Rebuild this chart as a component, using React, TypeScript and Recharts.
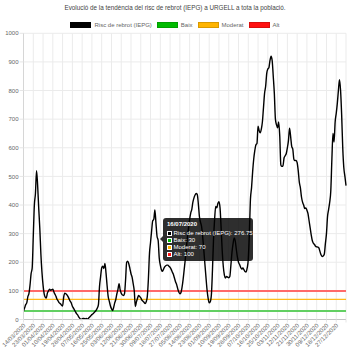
import { LineChart, Line, XAxis, YAxis, CartesianGrid, ReferenceLine, Tooltip } from "recharts";

const FONT = "'Liberation Sans', Arial, Helvetica, sans-serif";
const TITLE = "Evolució de la tendència del risc de rebrot (IEPG) a URGELL a tota la població.";
const SERIES_NAME = "Risc de rebrot (IEPG)";

// daily IEPG values from 14/03/2020
const riskValues = [
	30, 40, 52, 58, 80, 90, 120, 160, 180, 290,
	400, 440, 520, 470, 390, 320, 230, 165, 120, 90,
	78, 75, 92, 100, 106, 102, 104, 106, 96, 88,
	80, 70, 64, 58, 55, 50, 47, 78, 92, 90,
	86, 80, 72, 64, 58, 46, 40, 33, 26, 20,
	15, 8, 3, 0, 2, 4, 3, 2, 4, 1,
	5, 9, 13, 17, 20, 24, 28, 33, 40, 52,
	115, 150, 180, 186, 178, 196, 162, 118, 80, 64,
	48, 38, 31, 42, 58, 70, 90, 105, 125, 104,
	92, 86, 84, 90, 138, 200, 204, 194, 178, 160,
	148, 125, 100, 45, 62, 74, 84, 80, 76, 68,
	64, 60, 56, 62, 80, 140, 230, 270, 310, 345,
	350, 383, 336, 290, 276.75, 215, 190, 174, 168, 176,
	184, 188, 190, 190, 186, 182, 175, 166, 158, 145,
	132, 122, 108, 96, 90, 94, 112, 140, 175, 210,
	250, 290, 320, 350, 372, 385, 410, 425, 435, 440,
	437, 405, 360, 340, 325, 290, 245, 196, 150, 105,
	75, 58, 62, 85, 170, 280, 350, 395, 390, 405,
	412, 390, 320, 240, 185, 155, 145, 150, 148, 146,
	150, 190, 235, 265, 285, 275, 245, 218, 200, 192,
	182, 176, 180, 174, 168, 166, 180, 210, 300, 420,
	460, 515, 560, 590, 610, 615, 675, 660, 652, 665,
	690, 740, 790, 815, 860, 875, 880, 905, 920, 905,
	850, 790, 700, 680, 670, 690, 640, 540, 535, 538,
	565, 572, 580, 600, 625, 668, 640, 605, 595, 560,
	555, 556, 548, 520, 480, 460, 428, 410, 400, 388,
	390, 382, 370, 345, 320, 295, 275, 266, 262, 256,
	254, 253, 250, 238, 226, 220, 222, 228, 265, 300,
	360, 385, 410, 450, 560, 650, 620, 690, 720, 755,
	800, 838, 800, 715, 600, 530, 500, 468,
];

const thresholdNames = ["Baix", "Moderat", "Alt"];
const thresholdValues = [30, 70, 100];
const thresholdLineColors = ["#62cf62", "#ffbb1c", "#ff6a6a"];
const thresholdBoxColors = ["#00bb00", "#ffb400", "#ff1111"];
const thresholdWidths = [2, 1.3, 2];

const yTicks = [0, 100, 200, 300, 400, 500, 600, 700, 800, 900, 1000];
const TICK_EVERY = 9;
const ACTIVE_INDEX = 124;

const pad = (n: number) => (n < 10 ? "0" + n : "" + n);
const dates = riskValues.map((_, i) => {
	const d = new Date(Date.UTC(2020, 2, 14 + i));
	return `${pad(d.getUTCDate())}/${pad(d.getUTCMonth() + 1)}/${d.getUTCFullYear()}`;
});
const data = dates.map((date, i) => ({ date, risk: riskValues[i] }));
const xTicks = dates.filter((_, i) => i % TICK_EVERY === 0);

const DateTick = ({ x, y, payload }: any) => {
	if (payload.value === dates[dates.length - 1]) return null;
	const tx = x + 1;
	const ty = y + 1;
	return (
		<text
			x={tx}
			y={ty}
			transform={`rotate(-45 ${tx} ${ty})`}
			textAnchor="end"
			dominantBaseline="central"
			fontSize={6}
			fill="#666"
			fontFamily={FONT}
		>
			{payload.value}
		</text>
	);
};

const Square = ({ color }: { color: string }) => (
	<span
		style={{
			display: "inline-block",
			width: 5,
			height: 5,
			background: color,
			border: "1px solid #fff",
			marginRight: 1.5,
			verticalAlign: "middle",
			boxSizing: "border-box",
		}}
	/>
);

const TooltipBox = ({ payload, label }: any) => {
	if (!payload || !payload.length) return null;
	return (
		<div
			style={{
				position: "relative",
				background: "rgba(0,0,0,0.82)",
				color: "#fff",
				borderRadius: 3,
				padding: "3px 4px 3px 4px",
				fontFamily: FONT,
				fontSize: 6,
				lineHeight: "7px",
				whiteSpace: "nowrap",
				width: 82,
			}}
		>
			<div
				style={{
					position: "absolute",
					left: -3,
					top: 18,
					width: 0,
					height: 0,
					borderTop: "3px solid transparent",
					borderBottom: "3px solid transparent",
					borderRight: "3px solid rgba(0,0,0,0.82)",
				}}
			/>
			<div style={{ fontWeight: "bold", marginBottom: 2 }}>{label}</div>
			<div>
				<Square color="#000" />
				{SERIES_NAME}: {payload[0].value}
			</div>
			{thresholdNames.map((name, i) => (
				<div key={name}>
					<Square color={thresholdBoxColors[i]} />
					{name}: {thresholdValues[i]}
				</div>
			))}
		</div>
	);
};

const LegendItem = ({ color, text }: { color: string; text: string }) => (
	<span style={{ display: "inline-flex", alignItems: "center", margin: "0 2.5px" }}>
		<span
			style={{
				display: "inline-block",
				width: 21,
				height: 6,
				background: color,
				border: "0.5px solid rgba(0,0,0,0.15)",
				marginRight: 3,
				boxSizing: "border-box",
			}}
		/>
		<span>{text}</span>
	</span>
);

export default function App() {
	return (
		<div style={{ position: "absolute", left: 0, top: 0, width: 350, height: 350, background: "#fff", fontFamily: FONT }}>
			<div
				style={{
					position: "absolute",
					top: 4,
					left: 0,
					width: 350,
					textAlign: "center",
					fontSize: 6.3,
					lineHeight: "8px",
					color: "#444",
				}}
			>
				{TITLE}
			</div>
			<div
				style={{
					position: "absolute",
					top: 21,
					left: 0,
					width: 350,
					display: "flex",
					justifyContent: "center",
					fontSize: 6,
					lineHeight: "8px",
					color: "#666",
				}}
			>
				<LegendItem color="#000" text={SERIES_NAME} />
				{thresholdNames.map((name, i) => (
					<LegendItem key={name} color={thresholdBoxColors[i]} text={name} />
				))}
			</div>
			<LineChart
				width={350}
				height={350}
				data={data}
				margin={{ top: 33.3, right: 4, bottom: 0.5, left: 3.5 }}
			>
				<CartesianGrid stroke="#ebebeb" strokeWidth={1} />
				<XAxis
					dataKey="date"
					ticks={xTicks}
					interval={0}
					height={30}
					tick={<DateTick />}
					tickSize={3}
					tickMargin={1}
					tickLine={{ stroke: "#e6e6e6" }}
					axisLine={{ stroke: "#c4c4c4" }}
				/>
				<YAxis
					width={20}
					domain={[0, 1000]}
					ticks={yTicks}
					interval={0}
					tick={{ fontSize: 6, fill: "#666", fontFamily: FONT }}
					tickSize={4}
					tickMargin={1}
					tickLine={{ stroke: "#e6e6e6" }}
					axisLine={{ stroke: "#d6d6d6" }}
				/>
				{thresholdValues.map((v, i) => (
					<ReferenceLine
						key={thresholdNames[i]}
						y={v}
						stroke={thresholdLineColors[i]}
						strokeWidth={thresholdWidths[i]}
					/>
				))}
				<Line
					type="monotone"
					dataKey="risk"
					name={SERIES_NAME}
					stroke="#000"
					strokeWidth={1.4}
					dot={false}
					activeDot={false}
					isAnimationActive={false}
				/>
				<Tooltip
					defaultIndex={ACTIVE_INDEX}
					active={true}
					cursor={false}
					isAnimationActive={false}
					position={{ x: 163, y: 218 }}
					content={<TooltipBox />}
					wrapperStyle={{ outline: "none" }}
				/>
			</LineChart>
		</div>
	);
}
